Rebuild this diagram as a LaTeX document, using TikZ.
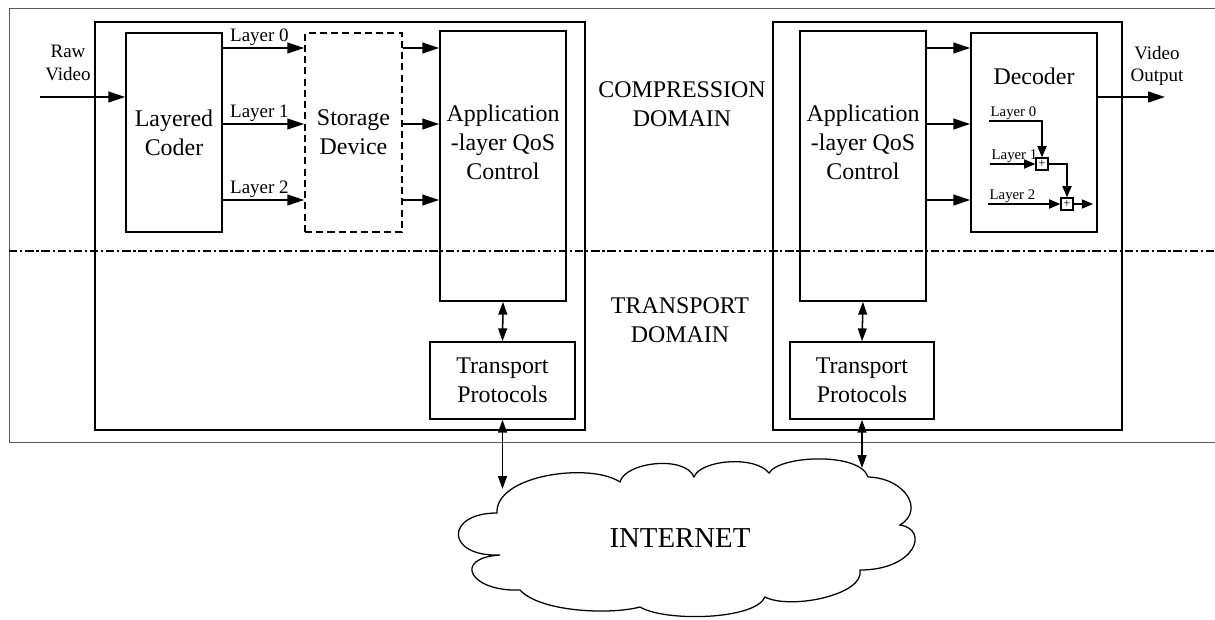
\documentclass[tikz,border=0pt]{standalone}
\usepackage{fontspec}
\setmainfont{Liberation Serif}
\usetikzlibrary{shapes,arrows.meta}

\begin{document}
\begin{tikzpicture}[x=0.025cm,y=-0.025cm]
\tikzstyle{blk}=[rectangle,draw,line width=1.1pt,align=center,inner sep=0pt,font=\fontsize{17}{20.5}\selectfont]
\tikzstyle{lbl}=[align=center,font=\fontsize{17}{20.5}\selectfont]
\tikzstyle{sm}=[align=center,inner sep=1pt,font=\fontsize{13.5}{16}\selectfont]
\tikzstyle{tiny}=[inner sep=1pt,font=\fontsize{10.5}{12}\selectfont]
\tikzstyle{arr}=[line width=1.1pt,-{Triangle[length=0.42cm,width=0.27cm]}]
\tikzstyle{sarr}=[line width=0.9pt,-{Triangle[length=0.28cm,width=0.23cm]}]
\tikzstyle{dbl}=[line width=1.1pt,{Triangle[length=0.32cm,width=0.22cm]}-{Triangle[length=0.32cm,width=0.22cm]}]
\tikzstyle{plus}=[rectangle,draw,line width=1pt,minimum size=0.3cm,inner sep=0pt,font=\fontsize{9}{9}\selectfont]

\useasboundingbox (0,0) rectangle (1215,619);
\draw[gray!70!black,line width=0.6pt] (1225,8) -- (9,8) -- (9,442) -- (1225,442);
\draw[line width=0.9pt,dash pattern=on 6pt off 2pt on 1.5pt off 2pt] (9,251) -- (1215,251);

% sender side
\node[blk,minimum width=12.25cm,minimum height=10.2cm] (sender) at (340,226) {};
\node[blk,minimum width=2.4cm,minimum height=4.975cm] (coder) at (174,132.5) {Layered\\Coder};
\node[blk,dashed,dash pattern=on 5pt off 3pt,minimum width=2.425cm,minimum height=4.975cm] (storage) at (353.5,132.5) {Storage\\Device};
\node[blk,minimum width=3.15cm,minimum height=6.75cm] (appS) at (503,166) {};
\node[lbl] (appStxt) at (503,142) {Application\\-layer QoS\\Control};
\node[blk,minimum width=3.625cm,minimum height=1.925cm] (tpS) at (502.5,380.5) {Transport\\Protocols};

% receiver side
\node[blk,minimum width=8.725cm,minimum height=10.2cm] (receiver) at (947.5,226) {};
\node[blk,minimum width=3.15cm,minimum height=6.75cm] (appR) at (863,166) {};
\node[lbl] (appRtxt) at (863,142) {Application\\-layer QoS\\Control};
\node[blk,minimum width=3.15cm,minimum height=4.975cm] (dec) at (1034,132.5) {};
\node[lbl] (dectxt) at (1034,76) {Decoder};
\node[blk,minimum width=3.6cm,minimum height=1.925cm] (tpR) at (862,380.5) {Transport\\Protocols};

\node[lbl] (comp) at (682,104) {COMPRESSION\\DOMAIN};
\node[lbl] (trans) at (680,320) {TRANSPORT\\DOMAIN};

% the cloud
\draw[line width=0.9pt] (497,513)
  .. controls (495,475) and (590,462) .. (620,482)
  .. controls (625,462) and (685,455) .. (694,477)
  .. controls (700,460) and (755,455) .. (769,473)
  .. controls (780,455) and (860,452) .. (868,477)
  .. controls (905,478) and (925,510) .. (900,525)
  .. controls (930,530) and (915,570) .. (860,570)
  .. controls (865,595) and (790,610) .. (765,597)
  .. controls (755,620) and (665,622) .. (640,607)
  .. controls (610,615) and (540,612) .. (520,590)
  .. controls (470,592) and (452,558) .. (500,555)
  .. controls (445,557) and (445,513) .. cycle;
\node[font=\fontsize{20.5}{24}\selectfont] (net) at (680,538) {INTERNET};

% inputs / outputs
\coordinate (rawin) at (40,97);
\coordinate (vout) at (1165,97);
\node[sm] (rawtxt) at (68,63) {Raw\\Video};
\node[sm] (outtxt) at (1157,66) {Video\\Output};
\draw[arr] (rawin) -- (coder.west |- rawin);
\draw[arr] (dec.east |- vout) -- (vout);

\foreach \y/\n in {48/0,124/1,200/2}{
  \draw[arr] (coder.east |- 0,\y) -- node[sm,above,pos=0.45]{Layer \n} (storage.west |- 0,\y);
  \draw[arr] (storage.east |- 0,\y) -- (appS.west |- 0,\y);
  \draw[arr] (appR.east |- 0,\y) -- (dec.west |- 0,\y);
}

\draw[dbl] (appS.south) -- (tpS.north);
\draw[dbl] (appR.south) -- (tpR.north);
\coordinate (netL) at (505,489);
\coordinate (netR) at (864,468);
\draw[dbl] (tpS.south) -- (tpS.south |- netL);
\draw[dbl] (tpR.south) -- (tpR.south |- netR);

% inside the decoder
\node[plus] (add1) at (1042,164) {+};
\node[plus] (add2) at (1067,204) {+};
\coordinate (in0) at (989,121);
\coordinate (in1) at (990,164);
\coordinate (in2) at (988,204);
\coordinate (dout) at (1093,204);
\node[tiny,above right] at (in0) {Layer 0};
\node[tiny,above right] at (in1) {Layer 1};
\node[tiny,above right] at (in2) {Layer 2};
\draw[sarr] (in0) -| (add1.north);
\draw[sarr] (in1) -- (add1.west);
\draw[sarr] (add1.east) -| (add2.north);
\draw[sarr] (in2) -- (add2.west);
\draw[sarr] (add2.east) -- (dout);
\end{tikzpicture}
\end{document}
